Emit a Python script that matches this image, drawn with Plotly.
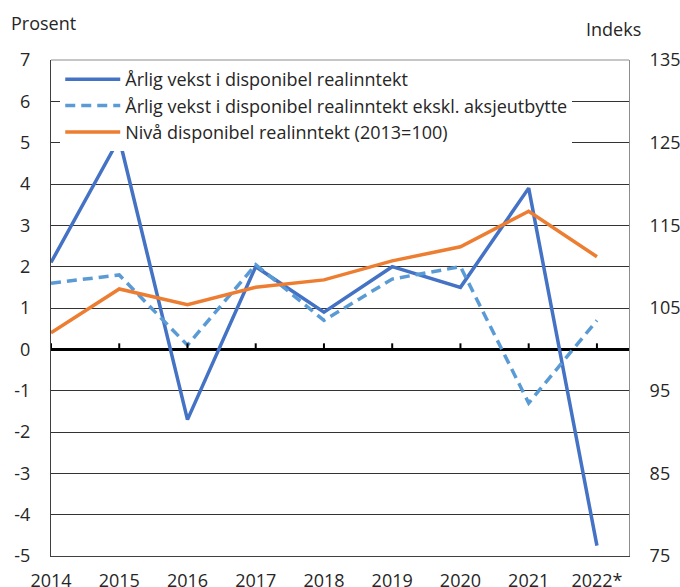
import plotly.graph_objects as go

years = ["2014", "2015", "2016", "2017", "2018", "2019", "2020", "2021", "2022*"]
vekst = [2.1, 5.1, -1.7, 2.0, 0.9, 2.0, 1.5, 3.9, -4.75]
vekst_ekskl = [1.6, 1.8, 0.1, 2.05, 0.7, 1.7, 2.0, -1.3, 0.7]
niva = [102.0, 107.3, 105.4, 107.5, 108.4, 110.7, 112.4, 116.7, 111.2]

left_ticks = [-5, -4, -3, -2, -1, 0, 1, 2, 3, 4, 5, 6, 7]
left_labels = ["-5", "-4", "-3", "-2", "-1", "0", "1", "2", "3", "4", "5", "6", "7"]
right_ticks = [75, 85, 95, 105, 115, 125, 135]

names = [
    "Årlig vekst i disponibel realinntekt",
    "Årlig vekst i disponibel realinntekt ekskl. aksjeutbytte",
    "Nivå disponibel realinntekt (2013=100)",
]

FONT = "Open Sans"
TXT = "#262626"
GRID = "#333333"
DARKFRAME = "#404040"
FRAME = "#8c8c8c"

fig = go.Figure()
fig.add_trace(go.Scatter(x=years, y=vekst, name=names[0], mode="lines",
                         line=dict(color="#4472C4", width=3.5)))
fig.add_trace(go.Scatter(x=years, y=vekst_ekskl, name=names[1], mode="lines",
                         line=dict(color="#5B9BD5", width=3.5, dash="10px,6px")))
fig.add_trace(go.Scatter(x=years, y=niva, name=names[2], mode="lines", yaxis="y2",
                         line=dict(color="#ED7D31", width=3.5)))

shapes = []
for i in range(len(years)):
    shapes.append(dict(type="line", xref="x", yref="y", x0=i, x1=i,
                       ysizemode="pixel", yanchor=0, y0=0, y1=6,
                       line=dict(color="black", width=2)))
# top frame line
shapes.append(dict(type="line", xref="paper", yref="paper", x0=0, x1=1, y0=1, y1=1,
                   line=dict(color=FRAME, width=1)))

fig.update_layout(
    width=680, height=587,
    margin=dict(l=51, r=51, t=60, b=31),
    paper_bgcolor="white", plot_bgcolor="white",
    font=dict(family=FONT, size=18, color=TXT),
    showlegend=True,
    legend=dict(x=0.016, y=0.998, xanchor="left", yanchor="top",
                bgcolor="white", borderwidth=0, font=dict(size=18, color=TXT),
                itemwidth=55, tracegroupgap=0),
    xaxis=dict(type="category", categoryorder="array", categoryarray=years,
               range=[0, 8.47], showgrid=False, showline=True, mirror=False,
               linecolor=DARKFRAME, linewidth=1, ticks="outside", ticklen=8,
               tickcolor="rgba(0,0,0,0)", tickfont=dict(size=18, color=TXT),
               automargin=False),
    yaxis=dict(range=[-5, 7], tickvals=left_ticks, ticktext=left_labels,
               showgrid=True, gridcolor=GRID,
               gridwidth=1, zeroline=True, zerolinecolor="black", zerolinewidth=3,
               showline=True, mirror=False, linecolor=DARKFRAME, linewidth=1,
               ticks="outside", ticklen=16, tickcolor="rgba(0,0,0,0)",
               tickfont=dict(size=18, color=TXT), automargin=False),
    yaxis2=dict(overlaying="y", side="right", range=[75, 135],
                tickvals=right_ticks, showgrid=False, showline=True,
                linecolor=FRAME, linewidth=1,
                zeroline=False, ticks="outside", ticklen=16,
                tickcolor="rgba(0,0,0,0)", tickfont=dict(size=18, color=TXT),
                automargin=False),
    shapes=shapes,
    annotations=[
        dict(text="Prosent", xref="paper", yref="paper", x=-0.0718, y=1.0755,
             xanchor="left", yanchor="middle", showarrow=False,
             font=dict(size=18, color=TXT)),
        dict(text="Indeks", xref="paper", yref="paper", x=0.974, y=1.0635,
             xanchor="center", yanchor="middle", showarrow=False,
             font=dict(size=18, color=TXT)),
    ],
)

fig.write_html("out.html",
               config={"displayModeBar": False},
               post_script="document.body.style.margin='0';document.body.style.overflow='hidden';")
